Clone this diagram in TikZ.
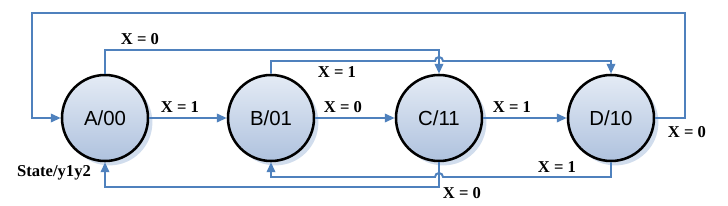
\documentclass[tikz,border=0pt]{standalone}
\usepackage{fontspec}
\setmainfont{Liberation Serif}
\setsansfont{Liberation Sans}
\usetikzlibrary{arrows.meta,calc,shadows}

\definecolor{linkblue}{HTML}{4F81BD}
\definecolor{stateTop}{HTML}{E4EBF5}
\definecolor{stateBot}{HTML}{AFC2DE}
\definecolor{shadowblue}{HTML}{C6D4E8}

\begin{document}
\begin{tikzpicture}[
  x=0.025cm, y=0.025cm,
  state/.style={
    circle, draw=black, line width=1.8pt,
    minimum size=2.15cm, inner sep=0pt,
    top color=stateTop, bottom color=stateBot,
    drop shadow={fill=shadowblue, opacity=0.8,
      shadow xshift=0.11cm, shadow yshift=-0.11cm},
    font=\sffamily\fontsize{14.5}{16}\selectfont
  },
  link/.style={
    draw=linkblue, line width=1.4pt,
    -{Triangle[length=7pt,width=6pt]}
  },
  lbl/.style={font=\bfseries\fontsize{11.8}{13}\selectfont, inner sep=1pt},
]

\useasboundingbox (0,0) rectangle (728,205);

\node[state] (A) at (105,87) {A/00};
\node[state] (B) at (271,87) {B/01};
\node[state] (C) at (439,87) {C/11};
\node[state] (D) at (611,87) {D/10};

\coordinate (topR) at (685,192);
\coordinate (topL) at (32,192);

% straight transitions
\draw[link] (A.east) -- (B.west);
\draw[link] (B.east) -- (C.west);
\draw[link] (C.east) -- (D.west);

% D back to A over the top
\draw[link] (D.east) -| (topR) -- (topL) |- (A.west);

% A to C, B to D (hop over the A-C line)
\draw[link] (A.north) -- (A.north |- 0,155) -| (C.north);
\draw[link] (B.north) -- (B.north |- 0,144)
  -- ($(C.north |- 0,144)+(-4,0)$) arc (180:0:4)
  -- (D.north |- 0,144) -- (D.north);

% D to B and C to A along the bottom
\draw[link] (D.south) -- (D.south |- 0,28)
  -- ($(C.south |- 0,28)+(4,0)$) arc (0:180:4)
  -- (B.south |- 0,28) -- (B.south);
\draw[link] (C.south) |- (A.south |- 0,18) -- (A.south);

\node[lbl] (l1) at (140,166) {X = 0};
\node[lbl] (l2) at (180,98)  {X = 1};
\node[lbl] (l3) at (337,133) {X = 1};
\node[lbl] (l4) at (343,98)  {X = 0};
\node[lbl] (l5) at (512,98)  {X = 1};
\node[lbl] (l6) at (687,73)  {X = 0};
\node[lbl] (l7) at (557,38)  {X = 1};
\node[lbl] (l8) at (462,12)  {X = 0};
\node[lbl] (st) at (54,32)   {State/y1y2};

\end{tikzpicture}
\end{document}
